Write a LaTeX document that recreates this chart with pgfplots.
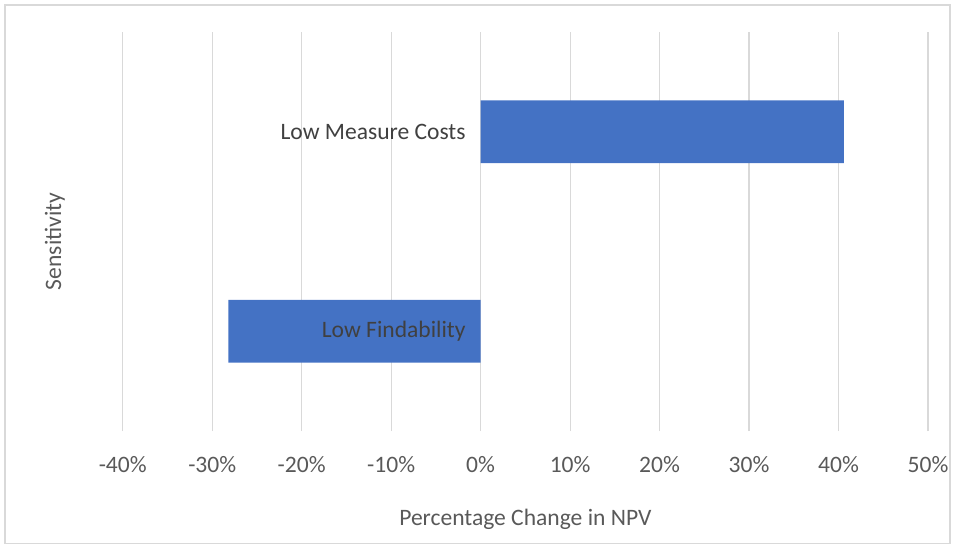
\documentclass[border=0pt]{standalone}
\usepackage{pgfplots}
\pgfplotsset{compat=1.18}
\usepackage{fontspec}
\setmainfont{Carlito}

\definecolor{barblue}{HTML}{4472C4}
\definecolor{gridgray}{HTML}{D9D9D9}
\definecolor{tickgray}{HTML}{595959}
\definecolor{catgray}{HTML}{404040}

\newcommand{\chartfont}{\fontsize{11.8}{14}\selectfont}

\pgfplotsset{
  chartframe/.style={
    scale only axis,
    width=403.5pt, height=200pt,
    xmin=-40, xmax=50,
    ymin=-0.5, ymax=1.5,
    major tick length=0pt,
    clip=false,
  },
}

\begin{document}
\begin{tikzpicture}
  % bars, grid, x axis
  \begin{axis}[
      chartframe,
      axis x line=bottom,
      axis y line=none,
      axis line style={draw=none},
      xtick={-40,-30,...,50},
      xticklabels={-40\%,-30\%,-20\%,-10\%,0\%,10\%,20\%,30\%,40\%,50\%},
      xmajorgrids,
      grid style={draw=gridgray, line width=0.6pt},
      xticklabel style={font=\chartfont, text=tickgray, yshift=-9pt},
      xlabel={Percentage Change in NPV},
      xlabel style={font=\chartfont, text=tickgray,
        at={([yshift=-44pt]rel axis cs:0.5,0)}, anchor=center},
      xbar, bar width=31.5pt,
    ]
    \addplot[fill=barblue, draw=none] coordinates {
        (-28.2,0) (40.6,1)
      };

    % chart border and page frame
    \draw[gridgray, line width=0.6pt]
      ([xshift=-59pt,yshift=-56.5pt]rel axis cs:0,0) rectangle
      ([xshift=11pt,yshift=13.5pt]rel axis cs:1,1);
    \path ([xshift=-61.5pt,yshift=-58.5pt]rel axis cs:0,0) rectangle
      ([xshift=12.5pt,yshift=16pt]rel axis cs:1,1);
  \end{axis}

  % category labels on top of the bars, at x = 0
  \begin{axis}[
      chartframe,
      axis x line=none,
      axis y line=middle,
      axis line style={draw=none},
      hide obscured y ticks=false,
      ytick={0,1},
      yticklabels={Low Findability,Low Measure Costs},
      yticklabel style={font=\chartfont, text=catgray, anchor=east, xshift=-4pt},
      ylabel={Sensitivity},
      ylabel style={font=\chartfont, text=tickgray,
        at={([xshift=-34pt,yshift=-5pt]rel axis cs:0,0.5)}, anchor=center, rotate=90},
    ]
  \end{axis}
\end{tikzpicture}
\end{document}
